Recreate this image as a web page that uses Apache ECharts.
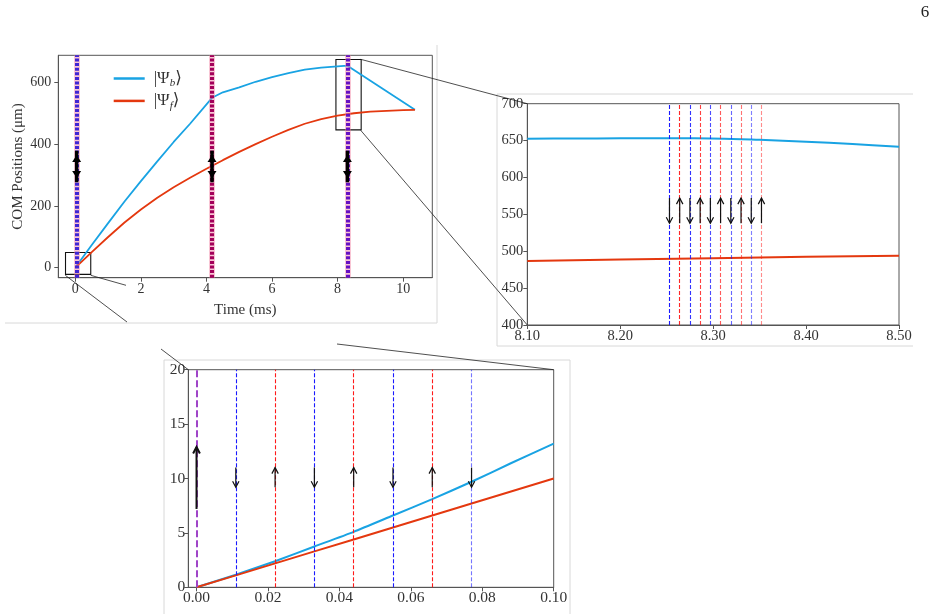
<!DOCTYPE html>
<html>
<head>
<meta charset="utf-8">
<script src="https://cdn.jsdelivr.net/npm/echarts@6/dist/echarts.min.js"></script>
<style>
  html, body { margin: 0; padding: 0; background: #fff; }
  #chart { width: 941px; height: 614px; }
</style>
</head>
<body>
<div id="chart"></div>
<script>
  // main panel: COM positions vs time (ms)
  var mainBlue = [[0, 0], [0.5, 73], [1, 144], [1.5, 214], [2, 280], [2.5, 344], [3, 407], [3.5, 466], [4.17, 550],
    [4.5, 568], [5, 584], [5.5, 602], [6, 617], [6.5, 630], [7, 641], [7.5, 648], [8, 652], [8.3, 654], [10.36, 511]];
  var mainRed = [[0, 0], [0.5, 50], [1, 99], [1.5, 146], [2, 188], [2.5, 226], [3, 260], [3.5, 291], [4, 320],
    [4.5, 348], [5, 375], [5.5, 400], [6, 424], [6.5, 446], [7, 466], [7.5, 481], [8, 492], [8.5, 500], [9, 505],
    [9.5, 508], [10, 510], [10.36, 511]];
  var pulseGroups = [0.04, 4.17, 8.30];
  var mainArrowLow = 290, mainArrowHigh = 365;
  var mainXTicks = [0, 2, 4, 6, 8, 10];
  var mainYTicks = [0, 200, 400, 600];

  // right inset (zoom around 8.3 ms)
  var rightBlue = [[8.10, 652.5], [8.15, 652.8], [8.20, 653], [8.28, 653], [8.35, 651], [8.40, 648.5], [8.45, 645.3], [8.50, 641.7]];
  var rightRed = [[8.10, 486.8], [8.20, 488.7], [8.30, 490.6], [8.40, 492.4], [8.50, 494]];
  var rightPulses = [8.253, 8.264, 8.275, 8.286, 8.297, 8.308, 8.319, 8.330, 8.341, 8.352];
  var rightArrowLow = 538, rightArrowHigh = 572;
  var rightXTicks = [8.10, 8.20, 8.30, 8.40, 8.50];

  // bottom inset (zoom around 0 ms)
  var bottomBlue = [[0, 0], [0.011, 1.15], [0.022, 2.4], [0.033, 3.75], [0.044, 5.1], [0.055, 6.6], [0.066, 8.1],
    [0.077, 9.7], [0.088, 11.4], [0.1, 13.2]];
  var bottomRed = [[0, 0], [0.011, 1.1], [0.022, 2.2], [0.033, 3.3], [0.044, 4.4], [0.055, 5.5], [0.066, 6.6],
    [0.077, 7.7], [0.1, 10]];
  var bottomPulses = [0.011, 0.022, 0.033, 0.044, 0.055, 0.066, 0.077];
  var bottomArrowLow = 9.2, bottomArrowHigh = 11;
  var firstArrowLow = 7.2, firstArrowHigh = 12.9;
  var bottomXTicks = [0, 0.02, 0.04, 0.06, 0.08, 0.10];

  var BLUE = '#19a3e3', RED = '#e4380f';
  var FONT = 'Liberation Serif, DejaVu Serif, serif';
  var AX = '#555';

  var chart = echarts.init(document.getElementById('chart'));

  function xAxis(idx, min, max, ticks, fmt, size, margin) {
    return {
      type: 'value', gridIndex: idx, min: min, max: max,
      axisLine: { show: true, onZero: false, lineStyle: { color: AX } },
      axisTick: { show: true, length: 4, customValues: ticks, lineStyle: { color: AX } },
      axisLabel: { customValues: ticks, formatter: fmt, fontFamily: FONT, fontSize: size, color: '#333', margin: margin },
      splitLine: { show: false }
    };
  }
  function yAxis(idx, min, max, ticks, size, margin) {
    return {
      type: 'value', gridIndex: idx, min: min, max: max,
      axisLine: { show: true, onZero: false, lineStyle: { color: AX } },
      axisTick: { show: true, length: 4, customValues: ticks, lineStyle: { color: AX } },
      axisLabel: { customValues: ticks, fontFamily: FONT, fontSize: size, color: '#333', margin: margin },
      splitLine: { show: false }
    };
  }

  // vertical arrows, drawn in pixels from data coords
  function arrows(idx, data, opt) {
    return {
      type: 'custom', xAxisIndex: idx, yAxisIndex: idx, data: data, silent: true, z: 6,
      renderItem: function (params, api) {
        var a = api.coord([api.value(0), api.value(1)]);
        var b = api.coord([api.value(0), api.value(2)]);
        var dir = b[1] < a[1] ? -1 : 1;
        var h = opt.head, w = opt.w;
        if (opt.both) {
          return {
            type: 'group', children: [
              { type: 'line', shape: { x1: a[0], y1: a[1] - dir * h * 0.6, x2: b[0], y2: b[1] + dir * h * 0.6 },
                style: { stroke: '#000', lineWidth: opt.lw } },
              { type: 'polygon', shape: { points: [[b[0], b[1]], [b[0] - w, b[1] - dir * h], [b[0] + w, b[1] - dir * h]] },
                style: { fill: '#000' } },
              { type: 'polygon', shape: { points: [[a[0], a[1]], [a[0] - w, a[1] + dir * h], [a[0] + w, a[1] + dir * h]] },
                style: { fill: '#000' } }
            ]
          };
        }
        return {
          type: 'group', children: [
            { type: 'line', shape: { x1: a[0], y1: a[1], x2: b[0], y2: b[1] }, style: { stroke: '#111', lineWidth: opt.lw } },
            { type: 'polyline', shape: { points: [[b[0] - w, b[1] - dir * h], [b[0], b[1]], [b[0] + w, b[1] - dir * h]] },
              style: { stroke: '#111', lineWidth: opt.lw, fill: null } }
          ]
        };
      }
    };
  }

  function pulseLines(idx, times, colorOf, opacityOf) {
    return {
      type: 'line', xAxisIndex: idx, yAxisIndex: idx, data: [], z: 2, silent: true,
      markLine: {
        silent: true, symbol: 'none', precision: 5, label: { show: false },
        data: times.map(function (t, k) {
          return { xAxis: t, lineStyle: { color: colorOf(k), width: 1.1, type: [4, 2], opacity: opacityOf(k) } };
        })
      }
    };
  }

  var groupColors = ['#3f25d4', '#a3005a', '#6410c4'];
  var groupLines = [];
  pulseGroups.forEach(function (t, k) {
    groupLines.push({ xAxis: t, lineStyle: { color: '#ef7f9f', width: 6, type: 'solid', opacity: 0.45 } });
    groupLines.push({ xAxis: t, lineStyle: { color: groupColors[k], width: 4, type: [3, 1.6], opacity: 1 } });
  });

  var option = {
    animation: false,
    backgroundColor: '#fff',
    grid: [
      { left: 58.3, top: 55.3, width: 374, height: 222.4, show: true, borderColor: AX, borderWidth: 1, outerBoundsMode: 'none' },
      { left: 527.3, top: 103.7, width: 371.7, height: 221.3, show: true, borderColor: AX, borderWidth: 1, outerBoundsMode: 'none' },
      { left: 188.3, top: 369.7, width: 365.4, height: 217.6, show: true, borderColor: AX, borderWidth: 1, outerBoundsMode: 'none' }
    ],
    xAxis: [
      Object.assign(xAxis(0, -0.52, 10.89, mainXTicks, null, 14, 5), {
        name: 'Time (ms)', nameLocation: 'middle', nameGap: 25,
        nameTextStyle: { fontFamily: FONT, fontSize: 15, color: '#333' }
      }),
      xAxis(1, 8.10, 8.50, rightXTicks, function (v) { return v.toFixed(2); }, 14.5, 4),
      xAxis(2, -0.0023, 0.10, bottomXTicks, function (v) { return v.toFixed(2); }, 15.5, 3)
    ],
    yAxis: [
      Object.assign(yAxis(0, -32.75, 687.75, mainYTicks, 14, 7), {
        name: 'COM Positions (μm)', nameLocation: 'middle', nameGap: 33,
        nameTextStyle: { fontFamily: FONT, fontSize: 15, color: '#333' }
      }),
      yAxis(1, 400, 700, [400, 450, 500, 550, 600, 650, 700], 14.5, 4),
      yAxis(2, 0, 20, [0, 5, 10, 15, 20], 15.5, 3)
    ],
    legend: {
      left: 108.7, top: 63, orient: 'vertical', itemWidth: 31, itemHeight: 2.5, itemGap: 1.4,
      icon: 'rect', data: ['b', 'f'],
      formatter: function (n) { return '|Ψ{s|' + n + '}⟩'; },
      textStyle: {
        fontFamily: FONT, fontSize: 17, color: '#333', lineHeight: 21, padding: [0, 0, 0, 4],
        rich: { s: { fontFamily: FONT, fontSize: 11, fontStyle: 'italic', color: '#333', lineHeight: 13, verticalAlign: 'bottom' } }
      }
    },
    series: [
      { name: 'b', type: 'line', xAxisIndex: 0, yAxisIndex: 0, data: mainBlue, showSymbol: false, symbol: 'none',
        color: BLUE, lineStyle: { color: BLUE, width: 1.8 }, z: 3 },
      { name: 'f', type: 'line', xAxisIndex: 0, yAxisIndex: 0, data: mainRed, showSymbol: false, symbol: 'none',
        color: RED, lineStyle: { color: RED, width: 1.8 }, z: 3,
        markArea: {
          silent: true,
          itemStyle: { color: 'rgba(0,0,0,0)', borderColor: '#111', borderWidth: 1.1 },
          data: [
            [{ coord: [-0.30, -22] }, { coord: [0.47, 49] }],
            [{ coord: [7.95, 446] }, { coord: [8.72, 674] }]
          ]
        }
      },
      { type: 'line', xAxisIndex: 0, yAxisIndex: 0, data: [], z: 4, silent: true,
        markLine: { silent: true, symbol: 'none', precision: 5, label: { show: false }, data: groupLines } },
      arrows(0, pulseGroups.map(function (t) { return [t, mainArrowLow, mainArrowHigh]; }), { both: true, head: 7, w: 4.5, lw: 3.5 }),

      // right inset
      pulseLines(1, rightPulses, function (k) { return k % 2 ? '#ff1a1a' : '#1a1aff'; }, function (k) { return 1 - 0.055 * k; }),
      { name: 'b-right', type: 'line', xAxisIndex: 1, yAxisIndex: 1, data: rightBlue, showSymbol: false, symbol: 'none',
        smooth: 0.3, lineStyle: { color: BLUE, width: 2 }, z: 3 },
      { name: 'f-right', type: 'line', xAxisIndex: 1, yAxisIndex: 1, data: rightRed, showSymbol: false, symbol: 'none',
        lineStyle: { color: RED, width: 2 }, z: 3 },
      arrows(1, rightPulses.map(function (t, k) {
        return k % 2 ? [t, rightArrowLow, rightArrowHigh] : [t, rightArrowHigh, rightArrowLow];
      }), { head: 6, w: 3.2, lw: 1.2 }),

      // bottom inset
      { type: 'line', xAxisIndex: 2, yAxisIndex: 2, data: [], z: 2, silent: true,
        markLine: { silent: true, symbol: 'none', precision: 5, label: { show: false },
          data: [{ xAxis: 0, lineStyle: { color: '#a044c8', width: 2, type: [7, 3] } }] } },
      pulseLines(2, bottomPulses, function (k) { return k % 2 ? '#ff1a1a' : '#1a1aff'; }, function (k) { return k < 6 ? 1 : 0.6; }),
      { name: 'b-bottom', type: 'line', xAxisIndex: 2, yAxisIndex: 2, data: bottomBlue, showSymbol: false, symbol: 'none',
        smooth: 0.2, lineStyle: { color: BLUE, width: 2 }, z: 3 },
      { name: 'f-bottom', type: 'line', xAxisIndex: 2, yAxisIndex: 2, data: bottomRed, showSymbol: false, symbol: 'none',
        lineStyle: { color: RED, width: 2 }, z: 3 },
      arrows(2, bottomPulses.map(function (t, k) {
        return k % 2 ? [t, bottomArrowLow, bottomArrowHigh] : [t, bottomArrowHigh, bottomArrowLow];
      }), { head: 6, w: 3.2, lw: 1.2 }),
      arrows(2, [[0, firstArrowLow, firstArrowHigh]], { head: 6.5, w: 3.4, lw: 2 })
    ],
    graphic: [
      // light frames of the three panels
      { type: 'polyline', silent: true, shape: { points: [[5, 323], [437, 323], [437, 45]] }, style: { stroke: '#d8d8d8', lineWidth: 1, fill: null } },
      { type: 'polyline', silent: true, shape: { points: [[913, 94], [497, 94], [497, 346], [913, 346]] }, style: { stroke: '#d8d8d8', lineWidth: 1, fill: null } },
      { type: 'polyline', silent: true, shape: { points: [[164, 614], [164, 360], [570, 360], [570, 614]] }, style: { stroke: '#d8d8d8', lineWidth: 1, fill: null } },
      // inset connectors
      { type: 'line', silent: true, z: 10, shape: { x1: 360.7, y1: 59.3, x2: 527.3, y2: 103.7 }, style: { stroke: '#222', lineWidth: 0.8 } },
      { type: 'line', silent: true, z: 10, shape: { x1: 360.7, y1: 130.3, x2: 527.3, y2: 325 }, style: { stroke: '#222', lineWidth: 0.8 } },
      { type: 'line', silent: true, z: 10, shape: { x1: 65.3, y1: 275.3, x2: 127, y2: 322 }, style: { stroke: '#222', lineWidth: 0.8 } },
      { type: 'line', silent: true, z: 10, shape: { x1: 161, y1: 349, x2: 188.3, y2: 369.7 }, style: { stroke: '#222', lineWidth: 0.8 } },
      { type: 'line', silent: true, z: 10, shape: { x1: 90.7, y1: 275.3, x2: 126, y2: 285.3 }, style: { stroke: '#222', lineWidth: 0.8 } },
      { type: 'line', silent: true, z: 10, shape: { x1: 337, y1: 344, x2: 553.7, y2: 369.7 }, style: { stroke: '#222', lineWidth: 0.8 } },
      // page number
      { type: 'text', silent: true, x: 925, y: 13, style: { text: '6', font: '17px ' + FONT, fill: '#222', textAlign: 'center', textVerticalAlign: 'middle' } }
    ]
  };

  chart.setOption(option);
</script>
</body>
</html>
